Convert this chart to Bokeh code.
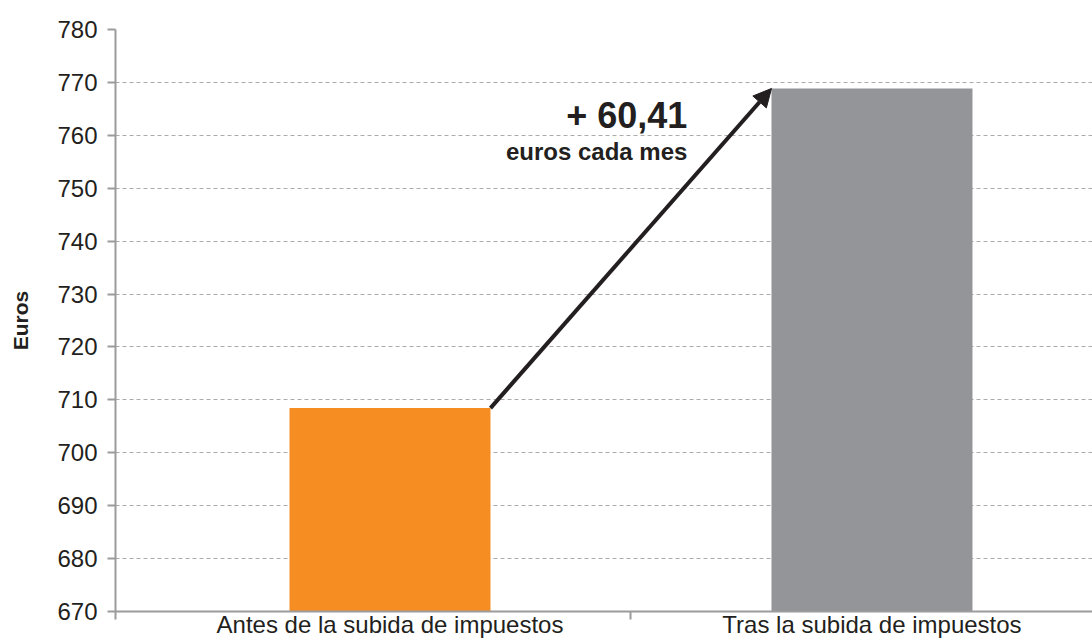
from bokeh.plotting import figure
from bokeh.models import FixedTicker, Range1d, Arrow, NormalHead, Label
from bokeh.embed import file_html
from bokeh.resources import INLINE

categories = ["Antes de la subida de impuestos", "Tras la subida de impuestos"]
values = [708.45, 768.86]
bar_colors = ["#F68D22", "#939598"]
y_ticks = [670, 680, 690, 700, 710, 720, 730, 740, 750, 760, 770, 780]
diff_label = "+ 60,41"
diff_sub = "euros cada mes"

xpos = [0, 1]
x_start, x_end = -0.5695, 1.4575
bw = 0.417
AX = "#9B9B9B"
TXT = "#231F20"
FONT = "Liberation Sans"

p = figure(width=1092, height=640, output_backend="svg", toolbar_location=None,
           x_range=Range1d(x_start, x_end), y_range=Range1d(670, 780),
           min_border_left=115, min_border_top=29, min_border_right=0, min_border_bottom=28)
p.outline_line_color = None
p.background_fill_color = "white"
p.border_fill_color = "white"

p.vbar(x=xpos, top=values, bottom=670, width=bw, color=bar_colors, line_color=None)

# y axis
p.yaxis.ticker = FixedTicker(ticks=y_ticks)
p.yaxis.axis_line_color = AX
p.yaxis.axis_line_width = 2
p.yaxis.major_tick_line_color = AX
p.yaxis.major_tick_line_width = 2
p.yaxis.major_tick_out = 8
p.yaxis.major_tick_in = 0
p.yaxis.minor_tick_line_color = None
p.yaxis.major_label_text_font = FONT
p.yaxis.major_label_text_font_size = "24px"
p.yaxis.major_label_text_color = TXT
p.yaxis.major_label_standoff = 10
p.yaxis.axis_label = "Euros"
p.yaxis.axis_label_text_font = FONT
p.yaxis.axis_label_text_font_style = "bold"
p.yaxis.axis_label_text_font_size = "21px"
p.yaxis.axis_label_text_color = TXT
p.yaxis.axis_label_standoff = 22

# x axis
p.xaxis.ticker = FixedTicker(ticks=xpos, minor_ticks=[x_start, 0.5])
p.xaxis.major_label_overrides = {0: categories[0], 1: categories[1]}
p.xaxis.major_label_text_font = FONT
p.xaxis.major_label_text_font_size = "24px"
p.xaxis.major_label_text_color = TXT
p.xaxis.major_label_text_line_height = 0.6
p.xaxis.major_label_standoff = -9
p.xaxis.axis_line_color = AX
p.xaxis.axis_line_width = 2
p.xaxis.major_tick_line_color = None
p.xaxis.major_tick_out = 0
p.xaxis.major_tick_in = 0
p.xaxis.minor_tick_line_color = AX
p.xaxis.minor_tick_line_width = 2
p.xaxis.minor_tick_out = 8
p.xaxis.minor_tick_in = 0

p.xgrid.grid_line_color = None
p.ygrid.ticker = FixedTicker(ticks=y_ticks)
p.ygrid.grid_line_color = "#ABABAB"
p.ygrid.grid_line_dash = "4 3"
p.ygrid.grid_line_width = 1

p.add_layout(Arrow(end=NormalHead(size=18, fill_color=TXT, line_color=TXT),
                   x_start=xpos[0] + bw / 2, y_start=values[0],
                   x_end=xpos[1] - bw / 2, y_end=values[1],
                   line_color=TXT, line_width=4))

p.add_layout(Label(x=0.617, y=763.7, text=diff_label, text_align="right",
                   text_baseline="alphabetic", text_font=FONT, text_font_style="bold",
                   text_font_size="36px", text_color=TXT))
p.add_layout(Label(x=0.617, y=757.0, text=diff_sub, text_align="right",
                   text_baseline="alphabetic", text_font=FONT, text_font_style="bold",
                   text_font_size="24px", text_color=TXT))

open("out.html", "w").write(file_html(p, INLINE))
